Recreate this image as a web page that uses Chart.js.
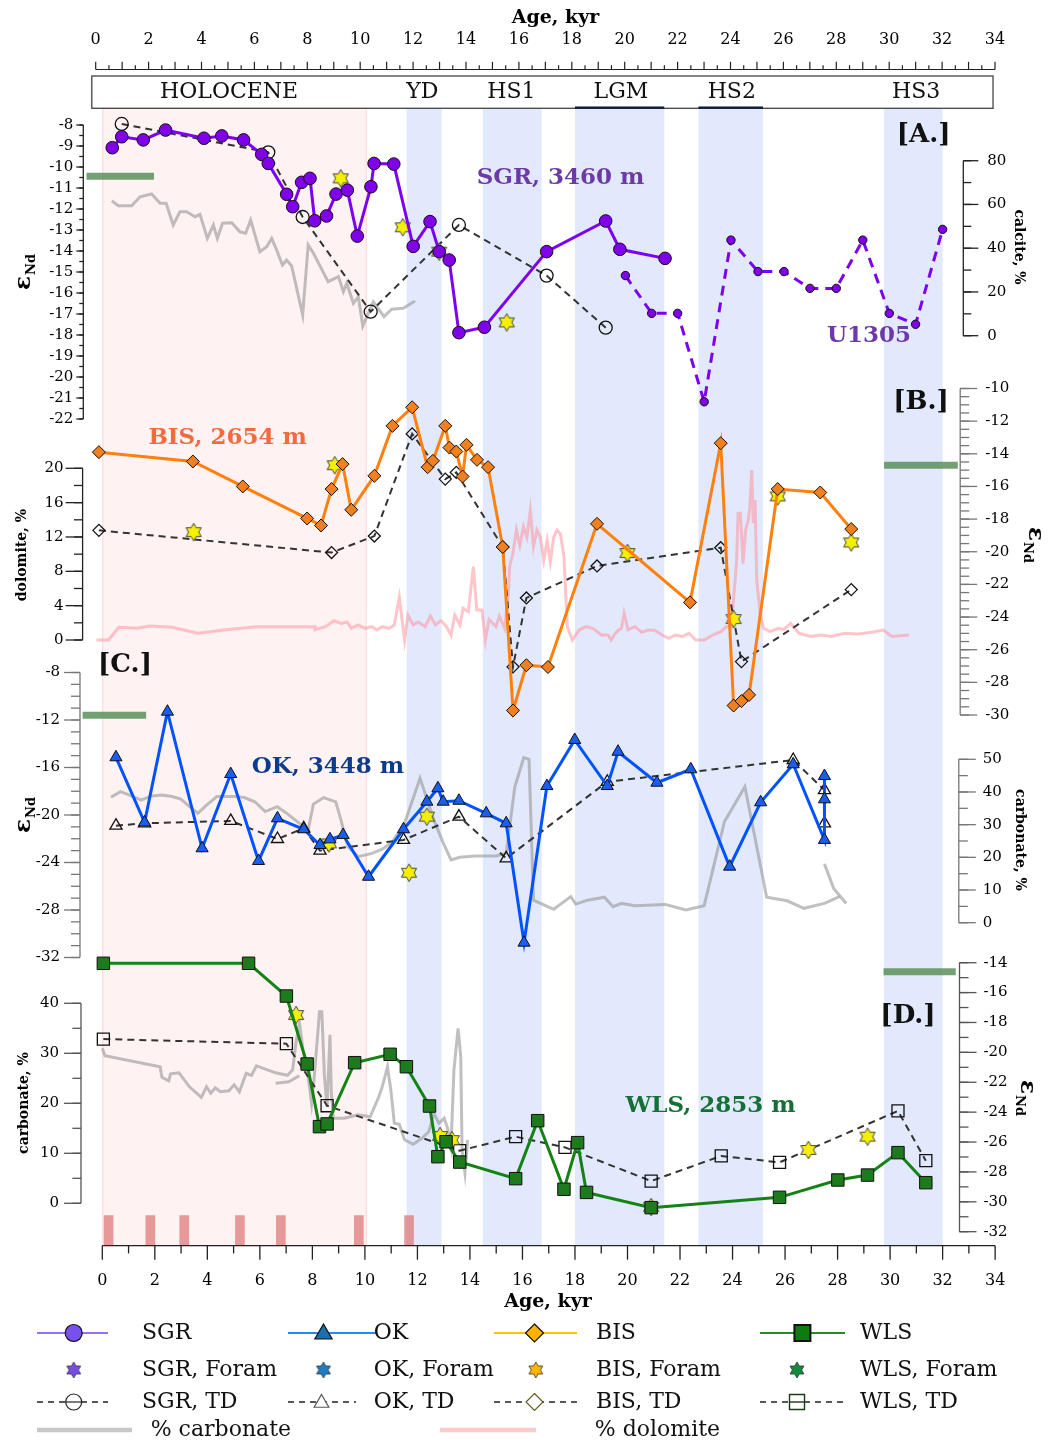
<!DOCTYPE html>
<html><head><meta charset="utf-8">
<script src="https://cdn.jsdelivr.net/npm/chart.js@4.4.1/dist/chart.umd.min.js"></script>
<style>html,body{margin:0;padding:0;background:#fff;}#wrap{position:relative;width:1050px;height:1442px;}canvas{display:block;}</style>
</head><body><div id="wrap"><canvas id="c" width="1050" height="1442"></canvas></div>
<script>
// ---------------- DATA ----------------
const tickX = [0,2,4,6,8,10,12,14,16,18,20,22,24,26,28,30,32,34];
const tickA = [-8,-9,-10,-11,-12,-13,-14,-15,-16,-17,-18,-19,-20,-21,-22];
const tickCalc = [0,20,40,60,80];
const tickB = [-10,-12,-14,-16,-18,-20,-22,-24,-26,-28,-30];
const tickDol = [0,4,8,12,16,20];
const tickC = [-8,-12,-16,-20,-24,-28,-32];
const tickCarbC = [0,10,20,30,40,50];
const tickD = [-14,-16,-18,-20,-22,-24,-26,-28,-30,-32];
const tickCarbD = [0,10,20,30,40];

const epochNames = ['HOLOCENE','YD','HS1','LGM','HS2','HS3'];
const epochLabelAge = [4.83,12.19,15.58,19.75,23.97,30.99];
const bandStart = [0,11.59,14.49,18.0,22.7,29.77];
const bandEnd = [10.07,12.92,16.73,21.4,25.16,32.0];

// Panel A
const sgrAge = [0.38,0.74,1.56,2.41,3.87,4.55,5.38,6.07,6.32,7.02,7.25,7.59,7.91,8.09,8.54,8.90,9.33,9.71,10.23,10.35,11.10,11.84,12.48,12.83,13.21,13.58,14.55,16.92,19.17,19.71,21.43];
const sgrNd = [-9.08,-8.56,-8.71,-8.24,-8.63,-8.52,-8.71,-9.40,-9.83,-11.30,-11.89,-10.73,-10.54,-12.56,-12.33,-11.29,-11.10,-13.29,-10.94,-9.83,-9.86,-13.78,-12.60,-14.03,-14.43,-17.89,-17.63,-14.03,-12.57,-13.92,-14.35];
const sgrForamAge = [9.08,11.44,12.83,15.40];
const sgrForamNd = [-10.54,-12.87,-14.03,-17.40];
const sgrTdAge = [0.74,6.32,7.63,10.22,13.58,16.92,19.17];
const sgrTdNd = [-7.95,-9.30,-12.38,-16.89,-12.76,-15.17,-17.65];
const u1305Age = [19.92,20.92,21.91,22.92,23.94,24.97,25.96,26.95,27.95,28.96,29.97,30.97,32.00];
const u1305Nd = [-15.17,-16.97,-16.97,-21.18,-13.48,-14.98,-14.98,-15.78,-15.78,-13.48,-16.97,-17.49,-12.97];
const calcAge = [0.36,0.61,1.12,1.44,1.88,2.20,2.43,2.70,2.96,3.21,3.53,3.72,4.00,4.23,4.38,4.58,4.93,5.24,5.46,5.65,6.00,6.26,6.45,6.64,6.86,7.02,7.21,7.63,7.84,8.04,8.60,8.99,9.18,9.31,9.56,9.75,9.92,10.32,10.73,11.02,11.46,11.91];
const calcPct = [61.7,59.4,59.4,63.5,64.8,60.5,60.5,50.6,56.7,56.7,54.4,55.5,44.5,50.6,44.5,51.4,51.6,47.5,46.8,52.9,38.4,40.7,44.5,39.2,32.3,34.6,31.9,9.5,41.5,37.7,24.7,27.0,20.1,24.0,14.8,17.8,4.4,15.5,8.7,12.1,12.5,15.9];
const refAAge = [-0.6,1.97];
const refANd = [-10.44,-10.44];

// Panel B
const bisAge = [-0.13,3.45,5.35,7.80,8.33,8.73,9.15,9.48,10.36,11.05,11.80,12.39,12.59,13.06,13.22,13.48,13.72,13.87,14.27,14.69,15.25,15.64,16.15,16.97,18.84,22.38,23.55,24.04,24.34,24.63,25.72,27.34,28.52];
const bisNd = [-13.90,-14.47,-16.00,-17.96,-18.39,-16.16,-14.63,-17.43,-15.35,-12.29,-11.15,-14.82,-14.43,-12.29,-13.62,-13.86,-15.39,-13.45,-14.37,-14.82,-19.71,-29.72,-26.95,-27.06,-18.29,-23.10,-13.35,-29.42,-29.15,-28.77,-16.16,-16.37,-18.61];
const bisForamAge = [3.48,8.85,20.00,24.04,25.72,28.52];
const bisForamNd = [-18.80,-14.70,-20.08,-24.12,-16.61,-19.43];
const bisTdAge = [-0.13,8.73,10.36,11.80,13.06,13.48,15.25,15.64,16.15,18.84,23.55,24.34,28.52];
const bisTdNd = [-18.69,-20.05,-19.04,-12.78,-15.55,-15.14,-19.71,-27.05,-22.83,-20.87,-19.75,-26.73,-22.32];
const dolAge = [-0.22,0.24,0.63,1.35,1.81,2.66,3.64,4.63,5.87,8.10,8.10,8.50,8.82,9.09,9.32,9.48,9.74,10.00,10.27,10.46,10.66,10.92,11.12,11.31,11.51,11.64,11.84,12.03,12.30,12.49,12.69,12.89,13.09,13.28,13.42,13.62,13.74,13.94,14.13,14.26,14.46,14.59,14.73,14.99,15.12,15.32,15.45,15.51,15.64,15.77,15.90,16.04,16.17,16.30,16.42,16.55,16.68,16.81,16.94,17.06,17.19,17.32,17.45,17.58,17.71,17.90,18.16,18.42,18.68,19.00,19.26,19.38,19.58,19.77,19.87,20.02,20.28,20.54,20.79,21.05,21.31,21.57,21.83,22.09,22.34,22.60,22.92,23.24,23.56,23.76,23.95,24.15,24.21,24.30,24.40,24.50,24.60,24.66,24.73,24.79,24.86,24.92,25.05,25.18,25.43,25.75,25.95,26.21,26.53,26.98,27.36,27.75,28.26,28.78,29.30,29.74,30.07,30.71];
const dolPct = [0,0,1.48,1.36,1.63,1.48,0.78,1.16,1.55,1.55,1.2,1.55,2.25,1.94,2.1,1.36,1.75,1.36,1.55,1.16,1.55,1.36,1.75,4.97,0.0,2.9,1.75,2.1,1.55,2.8,1.75,2.25,1.63,0.58,2.9,1.75,3.69,3.3,8.54,3.5,3.5,0.0,2.4,1.55,2.8,1.36,4.66,8.54,10.1,12.8,11.0,13.2,12.0,15.1,10.9,12.8,12.0,9.3,11.6,9.1,12.0,12.8,12.3,9.7,1.55,0.0,1.16,1.55,1.36,0.58,0.58,0.0,0.97,1.36,3.1,1.2,1.55,0.9,1.16,1.1,0.58,0.2,0.58,0.4,0.78,0.0,0.0,0.58,0.97,1.55,1.55,8.9,14.75,14.75,8.9,12.8,13.98,15.5,19.8,13.6,16.3,7.0,3.1,1.36,0.97,1.36,1.2,1.94,0.78,0.4,0.58,0.4,0.78,0.7,0.9,1.16,0.4,0.58];
const refBAge = [29.77,32.58];
const refBNd = [-14.7,-14.7];

// Panel C
const okAge = [0.52,1.61,2.48,3.80,4.89,5.95,6.67,7.67,8.29,8.67,9.17,10.14,11.47,12.36,12.78,12.98,13.58,14.62,15.38,16.06,16.93,17.99,19.23,19.64,21.12,22.41,23.89,25.07,26.31,27.50,27.50,27.50];
const okNd = [-15.14,-20.62,-11.30,-22.80,-16.55,-23.87,-20.28,-21.20,-22.53,-22.05,-21.68,-25.20,-21.20,-18.88,-17.75,-18.88,-18.80,-19.86,-20.70,-30.75,-17.56,-13.68,-17.56,-14.67,-17.28,-16.15,-24.35,-18.93,-15.73,-22.10,-18.68,-16.72];
const okForamAge = [8.63,11.68,12.36];
const okForamNd = [-22.39,-24.86,-20.14];
const okTdAge = [0.52,1.61,4.89,6.67,7.67,8.29,11.47,13.58,15.38,19.23,26.31,27.50,27.50];
const okTdNd = [-20.90,-20.70,-20.50,-22.02,-21.12,-23.00,-22.10,-20.14,-23.65,-17.20,-15.37,-17.90,-20.70];
const carbCAge = [0.33,0.69,1.02,1.48,1.87,2.27,2.66,2.99,3.32,3.64,3.97,4.36,5.02,5.41,5.81,6.20,6.66,7.05,7.51,7.84,8.04,8.43,8.89,9.09,9.35,9.74,10.27,10.66,11.05,11.51,12.10,12.63,12.96,13.28,13.61,14.20,14.99,15.38,15.71,16.05,16.25,16.42,17.19,17.84,18.03,18.48,19.12,19.45,19.77,20.28,21.44,22.22,22.92,23.69,24.47,25.30,26.08,26.72,27.50,28.07];
const carbCPct = [38.4,40.1,39.1,37.5,38.8,39.1,38.6,37.8,35.5,33.5,36.0,38.6,38.6,38.3,37.0,34.0,35.5,33.3,30.4,28.4,36.3,38.3,37.0,31.4,23.3,20.2,21.2,22.5,24.8,30.4,44.2,31.4,24.8,19.2,20.0,20.4,20.4,21.2,41.6,50.5,50.0,6.9,4.1,8.0,5.7,6.9,7.8,4.9,5.9,5.2,5.6,3.9,5.2,30.9,41.6,7.8,6.7,4.4,5.9,8.0];
const carbC2Age = [27.50,27.85,28.33];
const carbC2Pct = [18.0,10.5,5.9];
const refCAge = [-0.75,1.67];
const refCNd = [-11.6,-11.6];

// Panel D
const wlsAge = [0.04,5.57,7.01,7.80,8.27,8.56,9.61,10.96,11.58,12.46,12.78,13.09,13.61,15.74,16.58,17.58,18.10,18.44,20.90,25.79,28.01,29.14,30.30,31.36];
const wlsNd = [-14.04,-14.04,-16.23,-20.78,-24.97,-24.79,-20.69,-20.13,-20.96,-23.59,-26.98,-25.98,-27.34,-28.45,-24.57,-29.16,-26.04,-29.37,-30.39,-29.70,-28.54,-28.21,-26.71,-28.72];
const wlsForamAge = [7.38,12.86,13.31,20.90,26.89,29.14];
const wlsForamNd = [-17.50,-25.60,-25.87,-30.35,-26.53,-25.64];
const wlsTdAge = [0.04,7.01,8.56,13.61,15.74,17.62,20.90,23.57,25.79,30.30,31.36];
const wlsTdNd = [-19.11,-19.42,-23.57,-26.58,-25.64,-26.36,-28.61,-26.93,-27.36,-23.92,-27.25];
const carbDAge = [0.00,0.10,2.20,2.27,2.53,2.60,2.92,3.32,3.77,3.97,4.13,4.30,4.50,4.82,5.02,5.22,5.48,5.68,5.87,6.60,7.05,7.25,7.38,7.51,7.64,7.84,7.97,8.06,8.17,8.27,8.36,8.46,8.56,8.67,8.72,8.80,9.22,9.74,10.20,10.53,10.66,10.86,10.99,11.12,11.31,11.51,11.84,12.17,12.43,12.63,12.82,13.02,13.15,13.28,13.39,13.55,13.65,13.70,13.81,13.91];
const carbDPct = [31,29.5,27.3,25.2,24.5,25.9,26.1,23.3,21.2,23.3,22.0,23.1,22.3,22.5,23.7,22.3,26.0,25.6,27.5,26.1,25.6,26.7,32.3,36.0,30.8,25.3,20.0,24.6,31.7,38.3,38.3,25.3,19.3,33.7,22.4,17.0,17.0,17.7,17.3,21.3,23.3,27.3,22.6,16.0,15.8,12.7,11.8,13.0,14.3,18.0,16.0,17.0,15.0,11.3,26.7,35.0,29.3,10.7,6.1,12.7];
const carbD2Age = [6.60,7.10,7.50];
const carbD2Pct = [24.0,24.3,25.5];
const refDAge = [29.75,32.5];
const refDNd = [-14.6,-14.6];
const dateAge = [0.24,1.83,3.12,5.24,6.80,9.77,11.68];
const dateBar = [1,1,1,1,1,1,1];

// ---------------- LAYOUT ----------------
const W = 1050, H = 1442;
const X0PX = 102.3, XPU = 26.26;          // bottom age axis: pixel of 0 kyr, px per kyr
const XMIN = -1.5, XMAX = 34.5;
const TOP = 108.3, BOT = 1245.7;
const LEFT = X0PX + XMIN * XPU, RIGHT = X0PX + XMAX * XPU;
const XT0 = 95.7, XTPU = (995 - 95.7) / 34; // top axis
function yRange(v1, p1, v2, p2) { const s = (p2 - p1) / (v1 - v2); return {min: v2 - (BOT - p2) / s, max: v1 + (p1 - TOP) / s}; }
const FONT = '"DejaVu Serif", "Liberation Serif", serif';

const pts = (xs, ys) => xs.map((x, i) => ({x: x, y: ys[i]}));

function starCanvas(R, fill, stroke, lw) {
  const s = Math.ceil(2 * R + 2 * lw + 2);
  const c = document.createElement('canvas'); c.width = s; c.height = s;
  const g = c.getContext('2d'); const cx = s / 2, cy = s / 2, r = R / Math.sqrt(3);
  g.beginPath();
  for (let k = 0; k < 12; k++) {
    const a = -Math.PI / 2 + k * Math.PI / 6, rr = (k % 2 === 0) ? R : r;
    const px = cx + rr * Math.cos(a), py = cy + rr * Math.sin(a);
    if (k) g.lineTo(px, py); else g.moveTo(px, py);
  }
  g.closePath(); g.fillStyle = fill; g.fill(); g.lineWidth = lw; g.strokeStyle = stroke; g.stroke();
  return c;
}
const yellowStar = starCanvas(8.8, '#f4f000', '#444', 1);

function grey(xs, ys, axis) { return {type:'line', data: pts(xs, ys), yAxisID: axis, borderColor:'rgba(150,150,150,0.6)', borderWidth:3, pointRadius:0, order:20, clip:false, tension:0}; }
function ref(xs, ys, axis) { return {type:'line', data: pts(xs, ys), yAxisID: axis, borderColor:'rgba(90,145,90,0.85)', borderWidth:7, pointRadius:0, order:15, clip:false, borderCapStyle:'butt'}; }
function td(xs, ys, axis, style, r) { return {type:'line', data: pts(xs, ys), yAxisID: axis, borderColor:'#333', borderWidth:2, borderDash:[7,5], pointStyle: style, pointRadius: r, pointBackgroundColor:'rgba(0,0,0,0)', pointBorderColor:'#111', pointBorderWidth:1.3, order:8, clip:false}; }
function stars(xs, ys, axis) { return {type:'line', data: pts(xs, ys), yAxisID: axis, showLine:false, pointStyle: yellowStar, pointRadius: 8, order:6, clip:false}; }
function main(xs, ys, axis, line, fill, style, r) { return {type:'line', data: pts(xs, ys), yAxisID: axis, borderColor: line, borderWidth:3, pointStyle: style, pointRadius: r, pointBackgroundColor: fill, pointBorderColor:'#111', pointBorderWidth:1, order:2, clip:false}; }

const datasets = [
  {type:'line', data: pts(dolAge, dolPct), yAxisID:'yDol', borderColor:'rgba(255,140,150,0.5)', borderWidth:3, pointRadius:0, order:21, clip:false},
  grey(calcAge, calcPct, 'yCalc'),
  grey(carbCAge, carbCPct, 'yCarbC'), grey(carbC2Age, carbC2Pct, 'yCarbC'),
  grey(carbDAge, carbDPct, 'yCarbD'), grey(carbD2Age, carbD2Pct, 'yCarbD'),
  ref(refAAge, refANd, 'yA'), ref(refBAge, refBNd, 'yB'), ref(refCAge, refCNd, 'yC'), ref(refDAge, refDNd, 'yD'),
  {type:'bar', data: pts(dateAge, dateBar), yAxisID:'yBar', backgroundColor:'rgba(222,118,118,0.72)', barThickness:9, order:15},
  td(sgrTdAge, sgrTdNd, 'yA', 'circle', 6.5),
  td(bisTdAge, bisTdNd, 'yB', 'rectRot', 6),
  td(okTdAge, okTdNd, 'yC', 'triangle', 7),
  td(wlsTdAge, wlsTdNd, 'yD', 'rect', 8.5),
  stars(sgrForamAge, sgrForamNd, 'yA'), stars(bisForamAge, bisForamNd, 'yB'),
  stars(okForamAge, okForamNd, 'yC'), stars(wlsForamAge, wlsForamNd, 'yD'),
  {type:'line', data: pts(u1305Age, u1305Nd), yAxisID:'yA', borderColor:'#7d00f0', borderWidth:3, borderDash:[10,7], pointStyle:'circle', pointRadius:4.2, pointBackgroundColor:'#8000e8', pointBorderColor:'#111', pointBorderWidth:1, order:4, clip:false},
  main(sgrAge, sgrNd, 'yA', '#7d00f0', '#8000e8', 'circle', 6.3),
  main(bisAge, bisNd, 'yB', '#ff800e', '#f2801f', 'rectRot', 6.5),
  main(okAge, okNd, 'yC', '#0052ff', '#1a5ef0', 'triangle', 7),
  main(wlsAge, wlsNd, 'yD', '#148214', '#1d7a1d', 'rect', 8.8)
];

const ys = (r) => Object.assign({type:'linear', display:false, offset:false}, r);
const scales = {
  x: {type:'linear', display:false, offset:false, grid:{offset:false}, min: XMIN, max: XMAX},
  xTop: {type:'linear', display:false, offset:false, position:'top', min: (LEFT - XT0) / XTPU, max: (RIGHT - XT0) / XTPU},
  yA: ys(yRange(-8,125,-22,419)),
  yCalc: ys(yRange(80,160.7,0,335.7)),
  yB: ys(yRange(-10,388.5,-30,715)),
  yDol: ys(yRange(20,468.3,0,640)),
  yC: ys(yRange(-8,672.5,-32,957.5)),
  yCarbC: ys(yRange(50,759.3,0,922.7)),
  yD: ys(yRange(-14,962.7,-32,1231.7)),
  yCarbD: ys(yRange(40,1003.3,0,1203.3)),
  yBar: ys(yRange(1,1215.7,0,1245.7))
};
datasets.forEach(d => d.xAxisID = 'x');

// ---------------- DRAW HELPERS ----------------
function seg(ctx, x1, y1, x2, y2) { ctx.beginPath(); ctx.moveTo(x1, y1); ctx.lineTo(x2, y2); ctx.stroke(); }
function txt(ctx, s, x, y, font, color, align, rot) {
  ctx.save(); ctx.translate(x, y); if (rot) ctx.rotate(rot);
  ctx.font = font; ctx.fillStyle = color || '#000'; ctx.textAlign = align || 'center'; ctx.textBaseline = 'middle';
  ctx.fillText(s, 0, 0); ctx.restore();
}
function epsNd(ctx, x, y, rot) {
  ctx.save(); ctx.translate(x, y); ctx.rotate(rot); ctx.fillStyle = '#000'; ctx.textBaseline = 'alphabetic'; ctx.textAlign = 'left';
  const f1 = 'bold 23px ' + FONT, f2 = 'bold 13px ' + FONT;
  ctx.font = f1; const w1 = ctx.measureText('ε').width; ctx.font = f2; const w2 = ctx.measureText('Nd').width;
  const x0 = -(w1 + w2 + 1) / 2;
  ctx.font = f1; ctx.fillText('ε', x0, 6); ctx.font = f2; ctx.fillText('Nd', x0 + w1 + 1, 11);
  ctx.restore();
}
const axesSpec = [
  {id:'yA', x:83.3, side:-1, lo:-22, hi:-8, labels:tickA, minor:0.5, majLen:7, minLen:4, gap:3, color:'#222'},
  {id:'yCalc', x:963.3, side:1, lo:0, hi:80, labels:tickCalc, minor:10, majLen:15, minLen:8, gap:9, color:'#222'},
  {id:'yB', x:960.2, side:1, lo:-30, hi:-10, labels:tickB, minor:0.5, majLen:17, minLen:9, gap:8, color:'#777'},
  {id:'yDol', x:82.6, side:-1, lo:0, hi:20, labels:tickDol, minor:2, majLen:17, minLen:8.6, gap:2, color:'#222'},
  {id:'yC', x:80, side:-1, lo:-32, hi:-8, labels:tickC, minor:1, majLen:16, minLen:9, gap:4, color:'#777'},
  {id:'yCarbC', x:958.8, side:1, lo:0, hi:50, labels:tickCarbC, minor:5, majLen:17, minLen:9, gap:7, color:'#777'},
  {id:'yD', x:959.5, side:1, lo:-32, hi:-14, labels:tickD, minor:1, majLen:17, minLen:9, gap:7, color:'#555'},
  {id:'yCarbD', x:81, side:-1, lo:0, hi:40, labels:tickCarbD, minor:5, majLen:17, minLen:8.6, gap:5, color:'#555'}
];
function drawYAxis(ctx, chart, o) {
  const sc = chart.scales[o.id];
  ctx.strokeStyle = o.color; ctx.lineWidth = 1.3;
  seg(ctx, o.x, sc.getPixelForValue(o.lo), o.x, sc.getPixelForValue(o.hi));
  const n = Math.round((o.hi - o.lo) / o.minor);
  for (let k = 0; k <= n; k++) { const y = sc.getPixelForValue(o.lo + k * o.minor); seg(ctx, o.x, y, o.x + o.side * o.minLen, y); }
  o.labels.forEach(v => {
    const y = sc.getPixelForValue(v);
    seg(ctx, o.x, y, o.x + o.side * o.majLen, y);
    txt(ctx, String(v), o.x + o.side * (o.majLen + o.gap), y, '15px ' + FONT, '#000', o.side < 0 ? 'right' : 'left');
  });
}
function shape(ctx, kind, x, y, r, fill, stroke, lw) {
  ctx.beginPath();
  if (kind === 'circle') ctx.arc(x, y, r, 0, Math.PI * 2);
  else if (kind === 'triangle') { ctx.moveTo(x, y - r); ctx.lineTo(x + r * 0.866, y + r * 0.5); ctx.lineTo(x - r * 0.866, y + r * 0.5); ctx.closePath(); }
  else if (kind === 'diamond') { ctx.moveTo(x, y - r); ctx.lineTo(x + r, y); ctx.lineTo(x, y + r); ctx.lineTo(x - r, y); ctx.closePath(); }
  else if (kind === 'square') { ctx.rect(x - r, y - r, 2 * r, 2 * r); }
  if (fill) { ctx.fillStyle = fill; ctx.fill(); }
  if (stroke) { ctx.strokeStyle = stroke; ctx.lineWidth = lw || 1; ctx.setLineDash([]); ctx.stroke(); }
}

const decor = {
  id: 'decor',
  beforeDraw(chart) { const c = chart.ctx; c.save(); c.fillStyle = '#fff'; c.fillRect(0, 0, W, H); c.restore(); },
  beforeDatasetsDraw(chart) {
    const c = chart.ctx, xs = chart.scales.x; c.save();
    bandStart.forEach((s, i) => {
      const x1 = xs.getPixelForValue(s), x2 = xs.getPixelForValue(bandEnd[i]);
      c.fillStyle = i === 0 ? '#fff2f2' : '#e3e9fc';
      c.fillRect(x1, TOP, x2 - x1, BOT - TOP);
      if (i === 0) { c.strokeStyle = 'rgba(255,205,205,0.8)'; c.lineWidth = 1; c.strokeRect(x1 + 0.5, TOP, x2 - x1 - 1, BOT - TOP); }
    });
    c.restore();
  },
  afterDraw(chart) {
    const c = chart.ctx, xs = chart.scales.x, xt = chart.scales.xTop;
    c.save();
    // top axis
    txt(c, 'Age, kyr', 555.5, 18.3, 'bold 19px ' + FONT, '#000');
    const yT = 69.5; c.strokeStyle = '#222'; c.lineWidth = 1.2;
    seg(c, xt.getPixelForValue(0), yT, xt.getPixelForValue(34), yT);
    for (let k = 0; k <= 68; k++) { const px = xt.getPixelForValue(k / 2); seg(c, px, yT, px, yT - (k % 2 ? 4.3 : 7.7)); }
    tickX.forEach(v => txt(c, String(v), xt.getPixelForValue(v), 40, '16px ' + FONT, '#000'));
    // epoch box
    const bx1 = xs.getPixelForValue(-0.4), bx2 = xs.getPixelForValue(33.92);
    c.strokeStyle = '#444'; c.lineWidth = 1.3; c.strokeRect(bx1, 76, bx2 - bx1, 32.3);
    c.strokeStyle = '#0a1a3a'; c.lineWidth = 2.2;
    [3, 4].forEach(i => seg(c, xs.getPixelForValue(bandStart[i]), 107.6, xs.getPixelForValue(bandEnd[i]), 107.6));
    epochNames.forEach((n, i) => txt(c, n, xs.getPixelForValue(epochLabelAge[i]), 92, '22px ' + FONT, '#111'));
    // bottom axis
    c.strokeStyle = '#222'; c.lineWidth = 1.3;
    seg(c, xs.getPixelForValue(0), BOT, xs.getPixelForValue(34), BOT);
    for (let k = 0; k <= 34; k++) { const px = xs.getPixelForValue(k); seg(c, px, BOT, px, BOT + (k % 2 ? 7.7 : 14)); }
    tickX.forEach(v => txt(c, String(v), xs.getPixelForValue(v), 1281, '16px ' + FONT, '#000'));
    txt(c, 'Age, kyr', 548, 1301.7, 'bold 19px ' + FONT, '#000');
    // y axes
    axesSpec.forEach(o => drawYAxis(c, chart, o));
    // axis titles
    epsNd(c, 24, 272, -Math.PI / 2);
    epsNd(c, 24, 815, -Math.PI / 2);
    epsNd(c, 1035, 545, Math.PI / 2);
    epsNd(c, 1027, 1098, Math.PI / 2);
    const tf = 'bold 14px ' + FONT;
    txt(c, 'dolomite, %', 22, 555, tf, '#000', 'center', -Math.PI / 2);
    txt(c, 'carbonate, %', 24, 1103, tf, '#000', 'center', -Math.PI / 2);
    txt(c, 'calcite, %', 1019, 247, tf, '#000', 'center', Math.PI / 2);
    txt(c, 'carbonate, %', 1020, 840, tf, '#000', 'center', Math.PI / 2);
    // panel labels
    const pf = 'bold 23px ' + FONT;
    txt(c, 'SGR, 3460 m', 560.5, 178, pf, '#6c3aa8');
    txt(c, 'U1305', 869, 336, pf, '#6c3aa8');
    txt(c, 'BIS, 2654 m', 227.6, 438, pf, '#f26a3d');
    txt(c, 'OK, 3448 m', 328, 767.5, pf, '#0d3b8c');
    txt(c, 'WLS, 2853 m', 710.5, 1105.8, pf, '#157035');
    const lf = 'bold 26px ' + FONT;
    txt(c, '[A.]', 923.7, 135.5, lf, '#111');
    txt(c, '[B.]', 921, 402.5, lf, '#111');
    txt(c, '[C.]', 125, 665.7, lf, '#111');
    txt(c, '[D.]', 908, 1016, lf, '#111');
    // legend
    const gf = '22px ' + FONT;
    const r1 = 1333, r2 = 1370, r3 = 1402, r4 = 1430;
    c.setLineDash([]); c.lineWidth = 2;
    c.strokeStyle = '#9670ff'; seg(c, 37, r1, 108, r1); shape(c, 'circle', 73.7, r1, 8.5, '#7850f0', '#111', 1.2);
    c.lineWidth = 2; c.strokeStyle = '#1e8cff'; seg(c, 288, r1, 376, r1); shape(c, 'triangle', 323.5, r1 + 1, 10, '#1a6fb0', '#111', 1.2);
    c.lineWidth = 2; c.strokeStyle = '#ffc000'; seg(c, 494, r1, 577, r1); shape(c, 'diamond', 534.5, r1, 9, '#ffb300', '#111', 1.2);
    c.lineWidth = 2; c.strokeStyle = '#1f8f1f'; seg(c, 760, r1, 845, r1); shape(c, 'square', 802.4, r1, 8, '#0f7a0f', '#111', 2);
    [[73.7, '#7a4ce6'], [323.5, '#1c7cc4'], [535.8, '#ffb400'], [797, '#138a3e']].forEach(p => {
      const s = starCanvas(8, p[1], '#333', 0.8); c.drawImage(s, p[0] - s.width / 2, r2 - s.height / 2);
    });
    c.lineWidth = 1.5; c.strokeStyle = '#222'; c.setLineDash([6, 5]);
    seg(c, 37, r3, 108, r3); seg(c, 288, r3, 356, r3); seg(c, 494, r3, 577, r3); seg(c, 760, r3, 845, r3);
    c.setLineDash([]);
    shape(c, 'circle', 73.7, r3, 8, '#fff', '#222', 1.2); seg(c, 66, r3, 81, r3);
    shape(c, 'triangle', 321.5, r3 + 1, 8.5, '#fff', '#555', 1.2);
    shape(c, 'diamond', 534.5, r3, 8.5, '#fff', '#6b5520', 1.2);
    shape(c, 'square', 797, r3, 7.5, '#fff', '#1a3a1a', 1.4); seg(c, 790, r3, 804, r3);
    c.lineWidth = 4.5; c.strokeStyle = '#c8c8c8'; seg(c, 37, r4, 132, r4);
    c.strokeStyle = '#ffcaca'; seg(c, 440, r4, 536, r4);
    [['SGR', 142, r1], ['OK', 373.7, r1], ['BIS', 596, r1], ['WLS', 860, r1],
     ['SGR, Foram', 142, r2], ['OK, Foram', 373.7, r2], ['BIS, Foram', 596, r2], ['WLS, Foram', 860, r2],
     ['SGR, TD', 142, r3], ['OK, TD', 373.7, r3], ['BIS, TD', 596, r3], ['WLS, TD', 860, r3],
     ['% carbonate', 150.7, r4], ['% dolomite', 594.8, r4]].forEach(t => txt(c, t[0], t[1], t[2], gf, '#111', 'left'));
    c.restore();
  }
};

new Chart(document.getElementById('c'), {
  type: 'line',
  data: {datasets: datasets},
  options: {
    responsive: false, animation: false, devicePixelRatio: 1, events: [],
    layout: {padding: {left: LEFT, right: W - RIGHT, top: TOP, bottom: H - BOT}},
    parsing: true,
    scales: scales,
    plugins: {legend: {display: false}, tooltip: {enabled: false}},
    elements: {line: {tension: 0}}
  },
  plugins: [decor]
});
</script></body></html>
